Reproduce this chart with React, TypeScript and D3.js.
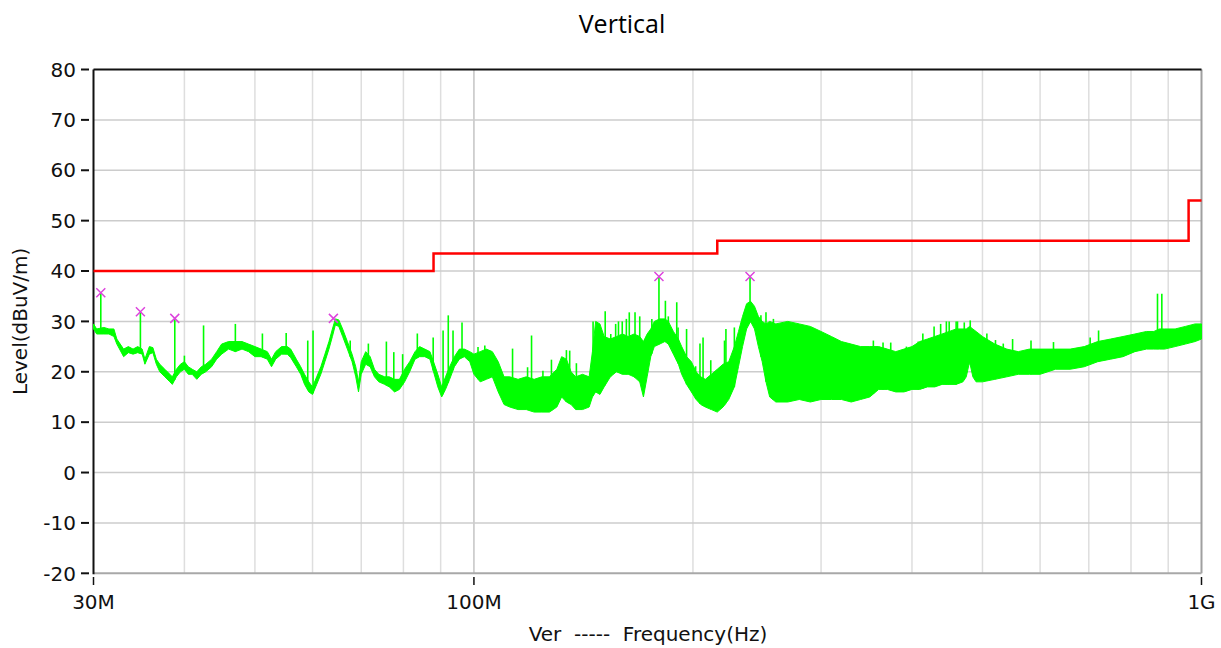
import * as d3 from 'd3';

// trace envelope read from the sweep (MHz, dBuV/m)
const envFreq = [
  30, 30.3, 31, 31.5, 32, 32.3, 33, 33.5, 34, 34.5, 35, 35.3, 35.8, 36.2, 36.6, 37, 37.6, 38.2, 38.5, 39,
  39.5, 40, 40.5, 41, 41.6, 42.2, 42.8, 43.6, 44.3, 45, 46, 47, 48, 49, 50, 51, 52, 52.7, 53.4, 54.4,
  55.4, 56, 57, 57.8, 58.5, 59.3, 60, 60.8, 61.6, 62.4, 63.2, 63.9, 64.5, 65.2, 66, 67, 68, 68.8, 69.4, 70,
  71, 72, 73, 74, 75.4, 76.5, 77.8, 79, 80.3, 81.6, 83, 84.2, 85.6, 87, 88, 89.2, 90.3, 91.4, 92.6, 94,
  95.5, 97, 98.7, 100, 102, 104, 106, 108, 110, 112, 115, 118, 121, 124, 127, 130, 132, 134, 136, 138,
  141, 144, 145.5, 147, 149, 151, 154, 157, 160, 163, 166, 169, 171, 173, 175, 177, 180, 183, 185, 188,
  191, 193, 196, 199, 202, 205, 208, 212, 216, 220, 224, 228, 231, 234, 237, 240, 243, 246, 249, 252,
  255, 260, 270, 280, 290, 300, 310, 320, 330, 340, 350, 360, 370, 380, 390, 400, 410, 420, 430, 440,
  450, 460, 470, 475, 480, 485, 490, 500, 520, 540, 560, 580, 600, 630, 660, 690, 720, 750, 780, 810,
  840, 860, 875, 890, 920, 950, 980, 1000,
];
const envLow = [
  28.5, 27.5, 27.5, 27.5, 27, 25.5, 23, 23.8, 23.5, 23.8, 23.5, 21.5, 23.5, 23.8, 21.5, 20, 19, 18, 17.5, 19,
  20, 20.5, 19.5, 19.5, 18.5, 19.5, 20, 21, 22.5, 23.5, 24.5, 24, 24.5, 24, 23, 23, 22.5, 21, 22.5, 23.5,
  23.5, 22.8, 21, 19.5, 17.5, 16, 15.5, 17.5, 19.5, 22, 24.5, 27, 29.3, 29, 27, 24.5, 22, 19, 16, 19.5,
  21.5, 21, 19, 18, 17.5, 17, 16, 16.5, 18, 20, 22.5, 23, 23, 22.5, 20, 17, 15, 16.5, 18.5, 21,
  22.5, 23, 22, 19.5, 18, 18.5, 19, 16, 13.5, 13, 12.5, 12.5, 12, 12, 12, 13, 15, 14, 13.5, 12.5,
  12.5, 13, 15, 16, 15.5, 17, 19, 20, 19.5, 19.5, 19, 18, 15, 19, 23, 25, 25.5, 26, 25.5, 23.5,
  21.5, 19.5, 17.5, 16, 14.5, 13.5, 13, 12.5, 12, 13, 14.5, 17, 21, 25, 28.5, 30, 28.5, 25, 22, 18,
  15, 14, 14, 14.5, 14, 14.5, 14.5, 14.5, 14, 14.5, 15, 16.5, 16.5, 16, 16, 16.5, 16.5, 17, 17, 17.5,
  17.5, 17.5, 18, 19, 22, 19, 18, 18, 18.5, 19, 19.5, 19.5, 19.5, 20.5, 20.5, 21, 22, 22.5, 23, 24,
  24.5, 24.5, 24.5, 24.5, 25, 25.5, 26, 26.5,
];
const envHigh = [
  29.5, 28.5, 28.8, 28.5, 28.5, 26.5, 24.5, 25, 24.5, 25, 24.5, 22.5, 25, 24.8, 22.5, 21.5, 20.5, 19.5, 19, 20.5,
  21.5, 22, 21, 20.5, 20, 21, 21.5, 22.5, 24, 25.5, 26, 26, 26, 25.5, 25, 24.5, 24, 22.5, 24, 25,
  25, 24.5, 22.5, 21, 19.5, 18, 17, 19, 21, 23.5, 26, 28.5, 30.5, 30.3, 28.5, 26, 23.5, 21, 18, 22,
  24, 23, 20.5, 19.5, 19, 19, 18.5, 18.5, 20.5, 22, 24, 25, 24.5, 24, 22, 19.5, 17, 19, 21, 23,
  24.5, 24.5, 24, 23.5, 24, 24.5, 24, 22, 19, 19, 18.5, 19, 18.5, 19, 19, 20.5, 23, 22.5, 20, 19,
  19.5, 19, 24, 30, 29.5, 27, 26.5, 27, 27.5, 27, 27.5, 27, 26, 27.5, 28.5, 30, 30.5, 30.5, 30, 28,
  26.5, 25, 23, 22, 20, 19, 18.5, 19.5, 20.5, 21.5, 22, 25, 28, 31, 33.5, 34, 33, 31, 30, 29.5,
  30, 29.5, 30, 29.5, 29, 28, 27, 26, 25.5, 25, 25, 25, 24.5, 24, 24.5, 25, 26, 26.5, 27, 27.5,
  28, 28.5, 28.5, 28.5, 29, 28.5, 28, 27, 25.5, 24.5, 24, 24.5, 24.5, 24.5, 24.5, 25, 26, 26.5, 27, 27.5,
  28, 28, 28.5, 28.5, 28.5, 29, 29.5, 29.5,
];

// narrow spikes above the trace
const spikeFreq = [
  30.7, 34.8, 38.8, 40, 42.5, 47, 51.2, 55.2, 59.1, 60.1, 67.6, 71.6, 75.8, 77.6, 79.8, 83.6, 87.9, 90.7, 92.2, 93.6,
  96.3, 101.3, 103.5, 105, 113, 118.5, 120, 124.4, 127.8, 134, 135.4, 138.3, 145.8, 151.5, 154.2, 156.6, 158, 159.9, 162, 163.5,
  166.5, 169, 175.6, 179.6, 183.3, 185, 190, 190.8, 196, 201.7, 204.5, 206.5, 211.6, 221, 222, 228, 239.6, 248, 252, 258,
  354, 365, 374, 393, 408, 414, 429, 438, 446, 450, 460, 462, 472, 481, 507, 521, 534, 550, 583, 626,
  703, 722, 870, 882,
];
const spikeLevel = [
  35.7, 31.9, 30.6, 23.2, 29.2, 29.5, 27.6, 27.7, 26.2, 28.2, 26.2, 25.6, 26, 23.9, 23.5, 27.6, 26.8, 28.2, 31.2, 28.2,
  29.8, 24.9, 25.2, 24.3, 24.6, 20.9, 27.2, 20.2, 22.4, 24.3, 24.2, 21.7, 30, 32, 27.5, 29.5, 30, 30, 30.5, 31.8,
  31.8, 31, 30.5, 38.9, 34.1, 31, 33.8, 28.8, 28.5, 21.1, 25.6, 26.8, 22.3, 26.2, 28.5, 28.8, 38.9, 31.2, 31.8, 30.5,
  26.2, 25.8, 25.8, 25, 26, 27.6, 29, 29.5, 30, 30, 30, 30, 29.8, 30.2, 27.6, 26.3, 25.6, 26.5, 26.2, 25.9,
  26.8, 28.2, 35.5, 35.5,
];

// peak markers
const markerFreq = [30.7, 34.8, 38.8, 64.1, 179.6, 239.6];
const markerLevel = [35.7, 31.9, 30.6, 30.6, 38.9, 38.9];

// limit line (step)
const limitFreq = [30, 88, 216, 960, 1000];
const limitLevel = [40, 43.5, 46, 54, 54];

const yTicks = [-20, -10, 0, 10, 20, 30, 40, 50, 60, 70, 80];
const xTickFreq = [30, 100, 1000];
const xTickLabels = ['30M', '100M', '1G'];
const gridFreq = [40, 50, 60, 70, 80, 90, 100, 200, 300, 400, 500, 600, 700, 800, 900];

const FONT = '"DejaVu Sans", Verdana, sans-serif';

export default function App() {
  const width = 1221;
  const height = 648;
  const left = 93.5;
  const right = 1201.5;
  const top = 69.5;
  const bottom = 573.3;

  const x = d3.scaleLog([30, 1000], [left, right]);
  const y = d3.scaleLinear([-20, 80], [bottom, top]);

  const idx = envFreq.map((_, i) => i);
  const band = d3
    .area<number>()
    .x((i) => x(envFreq[i]))
    .y0((i) => y(envLow[i]))
    .y1((i) => y(envHigh[i]))(idx);

  const lowAt = d3.scaleLinear(envFreq, envLow);

  const limit = d3
    .line<number>()
    .x((i) => x(limitFreq[i]))
    .y((i) => y(limitLevel[i]))
    .curve(d3.curveStepAfter)(limitFreq.map((_, i) => i));

  return (
    <svg
      width={width}
      height={height}
      style={{ position: 'absolute', left: 0, top: 0, background: '#fff' }}
    >
      <text
        x={622}
        y={33}
        textAnchor='middle'
        fontFamily='"Open Sans", sans-serif'
        fontSize={25}
        fill='#000'
      >
        Vertical
      </text>

      {/* grid */}
      <g>
        {gridFreq.map((f) => (
          <line
            key={'gx' + f}
            x1={x(f)}
            x2={x(f)}
            y1={top}
            y2={bottom}
            stroke={f === 100 ? '#c4c4c4' : '#dedede'}
            strokeWidth={1.5}
          />
        ))}
        {yTicks
          .filter((t) => t > -20 && t < 80)
          .map((t) => (
            <line
              key={'gy' + t}
              x1={left}
              x2={right}
              y1={y(t)}
              y2={y(t)}
              stroke='#cccccc'
              strokeWidth={1.5}
            />
          ))}
      </g>

      {/* frame */}
      <line x1={right} x2={right} y1={top} y2={bottom} stroke='#a0a0a0' strokeWidth={2} />
      <line x1={left} x2={right} y1={bottom} y2={bottom} stroke='#a8a8a8' strokeWidth={2} />
      <line x1={left} x2={right} y1={top} y2={top} stroke='#111' strokeWidth={2} />
      <line x1={left} x2={left} y1={top} y2={bottom + 1} stroke='#111' strokeWidth={2} />

      {/* y axis */}
      <g fontFamily={FONT} fontSize={20} fill='#111'>
        {yTicks.map((t) => (
          <g key={'yt' + t}>
            <line x1={81} x2={89} y1={y(t)} y2={y(t)} stroke='#111' strokeWidth={2} />
            <text x={76} y={y(t)} dy='0.36em' textAnchor='end'>
              {t}
            </text>
          </g>
        ))}
        <text
          transform={`translate(27,${(top + bottom) / 2}) rotate(-90)`}
          textAnchor='middle'
          fontSize={20}
        >
          Level(dBuV/m)
        </text>
      </g>

      {/* x axis */}
      <g fontFamily={FONT} fontSize={20} fill='#111'>
        {xTickFreq.map((f, i) => (
          <g key={'xt' + f}>
            <line x1={x(f)} x2={x(f)} y1={577} y2={585} stroke='#111' strokeWidth={1.5} />
            <text x={x(f)} y={609} textAnchor='middle'>
              {xTickLabels[i]}
            </text>
          </g>
        ))}
        <text x={648} y={641} textAnchor='middle' style={{ whiteSpace: 'pre' }}>
          {'Ver  -----  Frequency(Hz)'}
        </text>
      </g>

      {/* limit */}
      <path d={limit ?? ''} fill='none' stroke='#ff0000' strokeWidth={2.5} />

      {/* trace */}
      <path d={band ?? ''} fill='#00ff00' stroke='#00ff00' strokeWidth={1} />
      <g stroke='#00ff00' strokeWidth={1.6}>
        {spikeFreq.map((f, i) => (
          <line
            key={'sp' + i}
            x1={x(f)}
            x2={x(f)}
            y1={y(spikeLevel[i])}
            y2={y(lowAt(f))}
          />
        ))}
      </g>

      {/* markers */}
      <g stroke='#dd44dd' strokeWidth={1.5} fill='none'>
        {markerFreq.map((f, i) => {
          const cx = x(f);
          const cy = y(markerLevel[i]);
          return (
            <path
              key={'mk' + i}
              d={`M${cx - 4.5},${cy - 4.5}L${cx + 4.5},${cy + 4.5}M${cx + 4.5},${cy - 4.5}L${cx - 4.5},${cy + 4.5}`}
            />
          );
        })}
      </g>
    </svg>
  );
}
